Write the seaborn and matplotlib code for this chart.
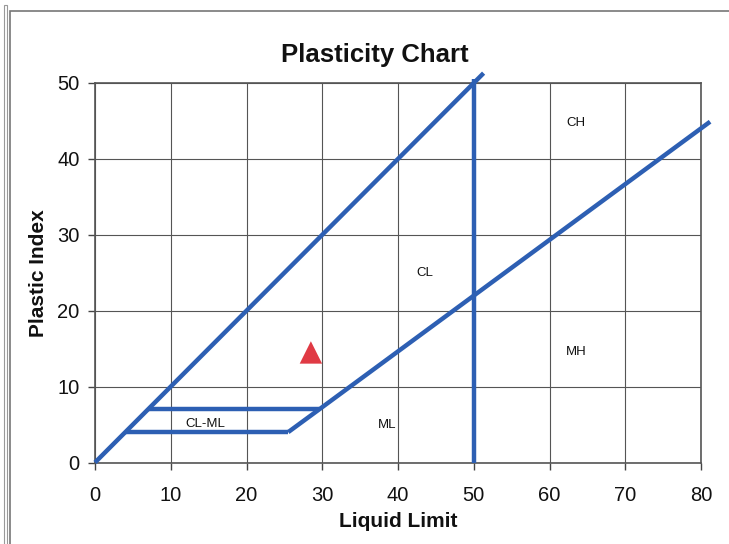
import matplotlib
matplotlib.use("Agg")
import matplotlib.pyplot as plt
import seaborn as sns
from matplotlib.patches import Rectangle

# Chart boundary lines (Liquid Limit, Plastic Index)
u_line_ll = [0, 51.3]
u_line_pi = [0, 51.3]
a_line_ll = [25.5, 29.6, 81.2]
a_line_pi = [4, 7, 44.9]
ll50_ll = [50, 50]
ll50_pi = [0, 50.5]
clml_top_ll = [7, 29.6]
clml_top_pi = [7, 7]
clml_bot_ll = [3.9, 25.5]
clml_bot_pi = [4, 4]

# sample point
sample_ll = [28.5]
sample_pi = [14.5]

# zone labels
zone_names = ["CH", "CL", "MH", "ML", "CL-ML"]
zone_ll = [63.5, 43.5, 63.5, 38.5, 14.5]
zone_pi = [44.7, 25, 14.6, 4.9, 5.1]

sns.set_style("white")
plt.rcParams['font.family'] = ['Liberation Sans', 'DejaVu Sans']
plt.rcParams['text.color'] = '#111111'
plt.rcParams['axes.labelcolor'] = '#111111'
plt.rcParams['xtick.color'] = '#111111'
plt.rcParams['ytick.color'] = '#111111'

fig = plt.figure(figsize=(7.29, 5.44), dpi=100)
ax = fig.add_axes([95 / 729, 1 - 462.5 / 544, 606 / 729, 379.5 / 544])

blue = '#2d5fb3'
lw = 3.2
for xs, ys in [(u_line_ll, u_line_pi), (a_line_ll, a_line_pi), (ll50_ll, ll50_pi),
               (clml_top_ll, clml_top_pi), (clml_bot_ll, clml_bot_pi)]:
    sns.lineplot(x=xs, y=ys, sort=False, estimator=None, color=blue, linewidth=lw,
                 ax=ax, clip_on=False, solid_capstyle='butt', zorder=3)

sns.scatterplot(x=sample_ll, y=sample_pi, marker='^', s=260, color='#e03a44',
                edgecolor='none', ax=ax, zorder=4)

for name, x, y in zip(zone_names, zone_ll, zone_pi):
    ax.text(x, y, name, ha='center', va='center', fontsize=9.5, zorder=5)

ax.set_xlim(0, 80)
ax.set_ylim(0, 50)
ax.set_xticks(range(0, 81, 10))
ax.set_yticks(range(0, 51, 10))
ax.grid(True, color='#555555', linewidth=0.8)
ax.set_axisbelow(True)
for s in ax.spines.values():
    s.set_color('#555555')
    s.set_linewidth(1.2)
ax.tick_params(axis='both', labelsize=14.5, length=5, width=1, color='#444444',
               direction='out', left=True, bottom=True)
ax.tick_params(axis='x', pad=12)
ax.tick_params(axis='y', pad=6)
fig.text(375 / 729, 1 - 62 / 544, "Plasticity Chart", fontsize=18.5,
         fontweight='bold', ha='center', va='baseline')
ax.set_xlabel("Liquid Limit", fontsize=15, fontweight='bold', labelpad=5)
ax.set_ylabel("Plastic Index", fontsize=15, fontweight='bold', labelpad=7)

# scanned page border
fig.add_artist(Rectangle((10 / 729, -0.1), 1.2, 1.1 - 11 / 544, transform=fig.transFigure,
                         fill=False, edgecolor='#777777', linewidth=1.2))
fig.add_artist(Rectangle((4 / 729, -0.1), 3 / 729, 1.09, transform=fig.transFigure,
                         fill=False, edgecolor='#999999', linewidth=0.8))

fig.savefig('out.png', dpi=100)
